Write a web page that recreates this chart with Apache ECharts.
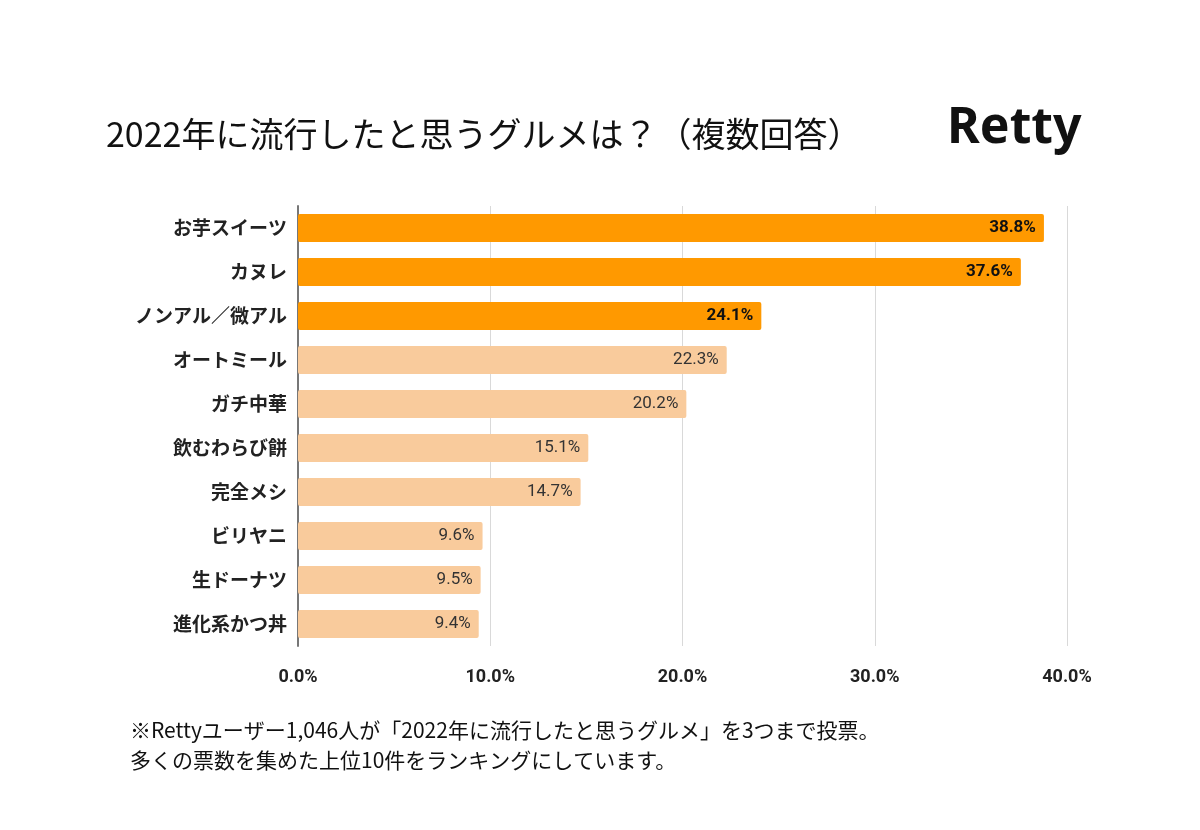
<!DOCTYPE html>
<html><head><meta charset="utf-8">
<script src="https://cdn.jsdelivr.net/npm/echarts@6/dist/echarts.min.js"></script>
<style>html,body{margin:0;padding:0;background:#fff}#c{width:1200px;height:830px}</style>
</head><body><div id="c"></div>
<script>
const categories = ['お芋スイーツ','カヌレ','ノンアル／微アル','オートミール','ガチ中華','飲むわらび餅','完全メシ','ビリヤニ','生ドーナツ','進化系かつ丼'];
const values = [38.8, 37.6, 24.1, 22.3, 20.2, 15.1, 14.7, 9.6, 9.5, 9.4];
const highlighted = [true, true, true, false, false, false, false, false, false, false];
const tickLabels = ['0.0%','10.0%','20.0%','30.0%','40.0%'];
const titleText = '2022年に流行したと思うグルメは？（複数回答）';
const noteLines = ['※Rettyユーザー1,046人が「2022年に流行したと思うグルメ」を3つまで投票。','多くの票数を集めた上位10件をランキングにしています。'];

const chart = echarts.init(document.getElementById('c'));
const CJK = '"Noto Sans CJK JP", "Noto Sans", sans-serif';
chart.setOption({
  backgroundColor: '#fff',
  animation: false,
  title: [
    {text: titleText, left: 101, top: 112, textStyle:{fontFamily: CJK, fontSize: 34, fontWeight: 'normal', color: '#111'}},
    {text: 'Retty', left: 942, top: 99, textStyle:{fontFamily: '"Noto Sans", sans-serif', fontSize: 50, fontWeight: 'bold', color: '#111'}}
  ],
  graphic: noteLines.map((t, i) => ({
    type: 'text', left: 130, top: 720 + i * 30,
    style: {text: t, font: '21px "Noto Sans CJK JP", sans-serif', fill: '#111'}
  })),
  grid: {left: 298, right: 133, top: 206, bottom: 184},
  xAxis: {
    type: 'value', min: 0, max: 40, interval: 10,
    axisLine: {show: false}, axisTick: {show: false},
    splitLine: {lineStyle: {color: '#d9d9d9', width: 1}},
    axisLabel: {formatter: (v) => tickLabels[Math.round(v / 10)], fontFamily: 'Roboto, sans-serif', fontSize: 18, fontWeight: 'bold', color: '#222', margin: 22}
  },
  yAxis: {
    type: 'category', inverse: true, data: categories,
    axisLine: {show: true, lineStyle: {color: '#777', width: 2}},
    axisTick: {show: false},
    axisLabel: {fontFamily: CJK, fontSize: 19, fontWeight: 'bold', color: '#222', margin: 11}
  },
  series: [{
    type: 'bar', barWidth: 28,
    data: values.map((v, i) => ({
      value: v,
      itemStyle: {color: highlighted[i] ? '#FF9900' : '#F9CB9C', borderRadius: 2},
      label: {
        show: true, position: 'insideRight', distance: 8,
        formatter: (p) => p.value.toFixed(1) + '%',
        fontFamily: 'Roboto, sans-serif', fontSize: 17,
        fontWeight: highlighted[i] ? 'bold' : 'normal',
        color: highlighted[i] ? '#111' : '#333'
      }
    }))
  }]
});
</script></body></html>
